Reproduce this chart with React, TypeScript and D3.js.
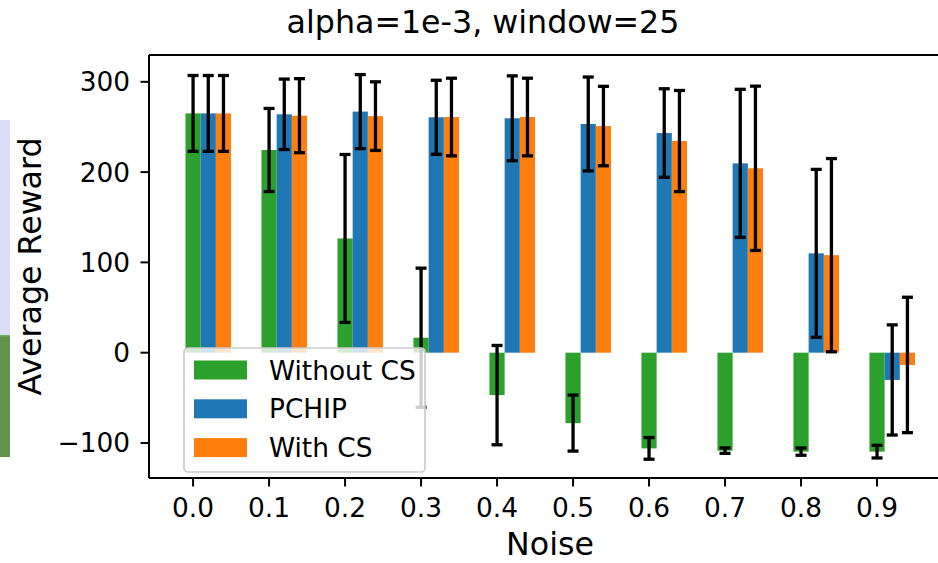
import { scaleLinear } from 'd3';

const noise = [0.0, 0.1, 0.2, 0.3, 0.4, 0.5, 0.6, 0.7, 0.8, 0.9];
const withoutCS = [265, 224.5, 126.5, 16.6, -47, -78, -106, -108.5, -109.6, -109.6];
const withoutCSErr = [42, 46, 93, 77, 55, 31, 12, 3, 4, 7];
const pchip = [265, 264, 267, 260.7, 259.6, 253.3, 243.3, 209.7, 110, -30.2];
const pchipErr = [42, 39, 41, 41, 47, 52, 49, 82, 93, 61];
const withCS = [265, 262.5, 262, 261, 261, 251, 234.4, 204.2, 108, -13.6];
const withCSErr = [42, 41, 38, 43, 43, 44, 56, 91, 107, 75];
const yTicks = [-100, 0, 100, 200, 300];

const series = [
  { name: 'Without CS', values: withoutCS, err: withoutCSErr, color: '#2ca02c', offset: 0 },
  { name: 'PCHIP', values: pchip, err: pchipErr, color: '#1f77b4', offset: 0.02 },
  { name: 'With CS', values: withCS, err: withCSErr, color: '#ff7f0e', offset: 0.04 },
];

const W = 938;
const H = 563;
const margin = { left: 149, top: 55, right: 951.5, bottom: 478 };
const font = 'DejaVu Sans, sans-serif';
const small = 26.4;
const large = 31.7;

const App = () => {
  const x = scaleLinear().domain([-0.058, 0.998]).range([margin.left, margin.right]);
  const y = scaleLinear().domain([-138.8, 329.7]).range([margin.bottom, margin.top]);
  const barW = x(0.02) - x(0);
  const cap = 5.5;

  return (
    <div style={{ position: 'fixed', left: 0, top: 0, background: '#fff' }}>
      <svg width={W} height={H} style={{ display: 'block' }}>
        <rect width={W} height={H} fill="#fff" />
        {/* cropped strip on the left edge */}
        <rect x={0} y={120} width={10} height={215} fill="#dcdcfb" />
        <rect x={0} y={335} width={10} height={122} fill="#619449" />
        <rect x={0} y={335} width={10} height={1.5} fill="#6cb45a" />

        <text x={483} y={33} fontFamily={font} fontSize={large} textAnchor="middle">
          alpha=1e-3, window=25
        </text>

        {series.map((s) =>
          s.values.map((v, i) => (
            <rect
              key={s.name + i}
              x={x(noise[i] + s.offset) - barW / 2}
              y={Math.min(y(v), y(0))}
              width={barW}
              height={Math.abs(y(v) - y(0))}
              fill={s.color}
            />
          )),
        )}
        {series.map((s) =>
          s.values.map((v, i) => {
            const cx = x(noise[i] + s.offset);
            const y1 = y(v + s.err[i]);
            const y2 = y(v - s.err[i]);
            return (
              <g key={'e' + s.name + i} stroke="#000" strokeWidth={3.3}>
                <line x1={cx} x2={cx} y1={y1} y2={y2} />
                <line x1={cx - cap} x2={cx + cap} y1={y1} y2={y1} />
                <line x1={cx - cap} x2={cx + cap} y1={y2} y2={y2} />
              </g>
            );
          }),
        )}

        {/* spines */}
        <g stroke="#000" strokeWidth={2} fill="none">
          <line x1={margin.left} x2={margin.left} y1={margin.top} y2={margin.bottom} />
          <line x1={margin.left} x2={W} y1={margin.top} y2={margin.top} />
          <line x1={margin.left} x2={W} y1={margin.bottom} y2={margin.bottom} />
        </g>

        {yTicks.map((t) => (
          <g key={'y' + t}>
            <line x1={margin.left - 8.5} x2={margin.left} y1={y(t)} y2={y(t)} stroke="#000" strokeWidth={2} />
            <text
              x={130}
              y={y(t)}
              dy="0.36em"
              fontFamily={font}
              fontSize={small}
              textAnchor="end"
            >
              {t < 0 ? '\u2212' + Math.abs(t) : t}
            </text>
          </g>
        ))}
        {noise.map((n) => (
          <g key={'x' + n}>
            <line x1={x(n)} x2={x(n)} y1={margin.bottom} y2={margin.bottom + 8.5} stroke="#000" strokeWidth={2} />
            <text x={x(n)} y={516.5} fontFamily={font} fontSize={small} textAnchor="middle">
              {n.toFixed(1)}
            </text>
          </g>
        ))}

        <text x={550} y={555} fontFamily={font} fontSize={large} textAnchor="middle">
          Noise
        </text>
        <text
          transform={`translate(41, ${(margin.top + margin.bottom) / 2}) rotate(-90)`}
          fontFamily={font}
          fontSize={large}
          textAnchor="middle"
        >
          Average Reward
        </text>

        {/* legend */}
        <rect
          x={184}
          y={348}
          width={241}
          height={124}
          rx={4}
          fill="#fff"
          fillOpacity={0.8}
          stroke="#cccccc"
          strokeWidth={1.7}
        />
        {series.map((s, i) => (
          <g key={'l' + s.name} transform={`translate(194, ${370 + i * 38.8})`}>
            <rect x={0} y={-9.5} width={53} height={19} fill={s.color} />
            <text x={75} y={0} dy="0.36em" fontFamily={font} fontSize={small}>
              {s.name}
            </text>
          </g>
        ))}
      </svg>
    </div>
  );
};

export default App;
